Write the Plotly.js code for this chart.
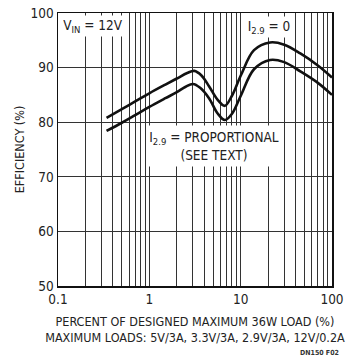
<!DOCTYPE html>
<html>
<head>
<meta charset="utf-8">
<script src="https://cdn.plot.ly/plotly-3.0.1.min.js"></script>
<style>
html,body{margin:0;padding:0;background:#fff;}
#chart{width:353px;height:358px;}
</style>
</head>
<body>
<div id="chart"></div>
<script>
// Percent of designed maximum 36W load (%)
const loadPct = [0.34, 0.5, 0.7, 1, 1.5, 2, 2.6, 3.1, 3.7, 4.5, 5.6, 6.7, 8, 10, 14, 21, 30, 45, 70, 100];
// Efficiency (%), I2.9 = 0
const effZero = [80.8, 82.4, 83.8, 85.3, 86.9, 88.0, 89.0, 89.4, 88.6, 86.6, 84.1, 83.0, 84.8, 88.5, 93.2, 94.6, 94.2, 92.6, 90.4, 88.2];
// Efficiency (%), I2.9 = proportional
const loadPctP = [0.34, 0.5, 0.7, 1, 1.5, 2, 2.5, 3.0, 3.6, 4.5, 5.6, 6.7, 8, 10, 14, 21, 30, 45, 70, 100];
const effProp = [78.4, 79.9, 81.3, 82.8, 84.4, 85.5, 86.5, 87.0, 86.3, 84.4, 81.6, 80.4, 81.5, 84.8, 89.7, 91.4, 91.0, 89.3, 87.2, 85.0];

const xGridVals = [0.1,0.2,0.3,0.4,0.5,0.6,0.7,0.8,0.9,1,2,3,4,5,6,7,8,9,10,20,30,40,50,60,70,80,90,100];
const xMajor = [0.1, 1, 10, 100];
const xTickText = xGridVals.map(v => xMajor.includes(v) ? String(v) : '');
const yTickVals = [50, 60, 70, 80, 90, 100];

const FONT = "'Liberation Sans Narrow', 'Arial Narrow', 'DejaVu Sans Condensed', sans-serif";

const traces = [
  {x: loadPct, y: effZero, mode: 'lines', line: {color: '#111', width: 2.6, shape: 'spline', smoothing: 1}, hoverinfo: 'skip'},
  {x: loadPctP, y: effProp, mode: 'lines', line: {color: '#111', width: 2.6, shape: 'spline', smoothing: 1}, hoverinfo: 'skip'}
];

const layout = {
  width: 353, height: 358,
  margin: {l: 58, r: 21, t: 13, b: 72},
  paper_bgcolor: '#fff', plot_bgcolor: '#fff',
  showlegend: false,
  font: {family: FONT, color: '#222', size: 13},
  xaxis: {
    type: 'log', range: [-1, 2],
    tickmode: 'array', tickvals: xGridVals, ticktext: xTickText,
    ticks: '', showgrid: true, gridcolor: '#333', gridwidth: 1,
    showline: true, mirror: true, linecolor: '#111', linewidth: 1.5,
    zeroline: false, tickfont: {size: 13.5, family: FONT, color: '#222'},
    title: {text: 'PERCENT OF DESIGNED MAXIMUM 36W LOAD (%)<br>MAXIMUM LOADS: 5V/3A, 3.3V/3A, 2.9V/3A, 12V/0.2A', font: {size: 12.5, family: FONT, color: '#222'}, standoff: 11}
  },
  yaxis: {
    range: [50, 100], tickmode: 'array', tickvals: yTickVals,
    ticks: '', showgrid: true, gridcolor: '#333', gridwidth: 1,
    showline: true, mirror: true, linecolor: '#111', linewidth: 1.5,
    zeroline: false, tickfont: {size: 13.5, family: FONT, color: '#222'},
    title: {text: 'EFFICIENCY (%)', font: {size: 12.5, family: FONT, color: '#222'}, standoff: 3}
  },
  annotations: [
    {xref: 'paper', yref: 'paper', x: 0.128, y: 0.952, xanchor: 'center', yanchor: 'middle', text: 'V<sub>IN</sub> = 12V', showarrow: false,
     bgcolor: '#fff', borderpad: 0, width: 60, height: 20, font: {size: 13.5, family: FONT, color: '#222'}},
    {xref: 'paper', yref: 'paper', x: 0.77, y: 0.95, xanchor: 'center', yanchor: 'middle', text: 'I<sub>2.9</sub> = 0', showarrow: false,
     bgcolor: '#fff', borderpad: 0, width: 48, height: 20, font: {size: 13.5, family: FONT, color: '#222'}},
    {xref: 'paper', yref: 'paper', x: 0.569, y: 0.513, xanchor: 'center', yanchor: 'middle', text: 'I<sub>2.9</sub> = PROPORTIONAL<br>(SEE TEXT)', showarrow: false,
     bgcolor: '#fff', borderpad: 0, width: 132, height: 40, font: {size: 13.5, family: FONT, color: '#222'}},
    {xref: 'paper', yref: 'paper', x: 0.955, y: -0.245, xanchor: 'center', yanchor: 'middle', text: '<b>DN150 F02</b>', showarrow: false,
     font: {size: 7, family: FONT, color: '#333'}}
  ]
};

Plotly.newPlot('chart', traces, layout, {displayModeBar: false, staticPlot: true});
</script>
</body>
</html>
